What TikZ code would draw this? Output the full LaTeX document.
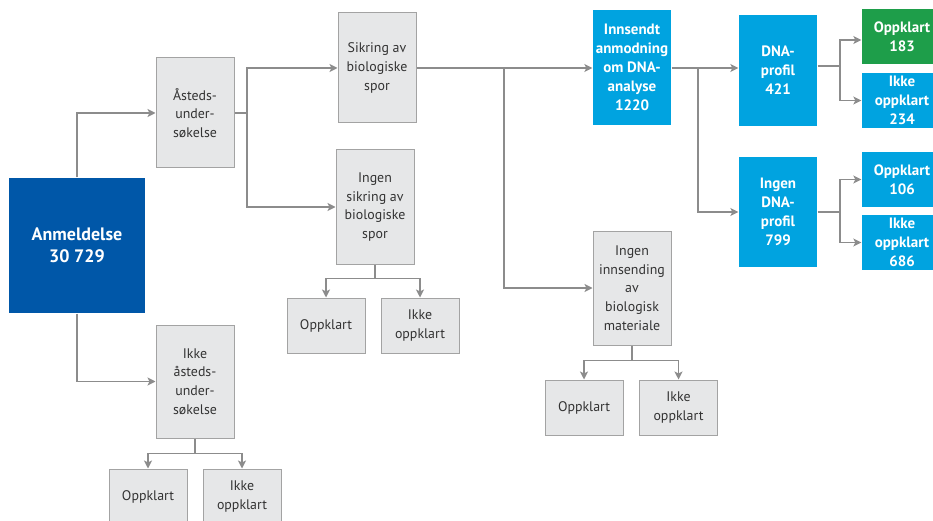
\documentclass[tikz,border=0pt]{standalone}
\usepackage{fontspec}
\setmainfont{PT Sans}
\usetikzlibrary{arrows.meta,positioning}
\definecolor{anmblue}{HTML}{0057A8}
\definecolor{dnablue}{HTML}{00A3E0}
\definecolor{oppgreen}{HTML}{1E9E4A}
\definecolor{boxgray}{HTML}{E6E7E8}
\definecolor{edgegray}{HTML}{A3A3A3}
\definecolor{linegray}{HTML}{8C8C8C}
\begin{document}
\begin{tikzpicture}[x=1pt, y=-1pt, line width=1.3pt,
    font=\fontsize{13.9}{18.7}\selectfont,
    arr/.style={draw=linegray, -{Stealth[length=8pt,width=8pt,inset=2pt]}},
    lin/.style={draw=linegray}]
   \useasboundingbox (0,0) rectangle (933,521);
   \begin{scope}[every node/.style={draw=edgegray, fill=boxgray, text=black!80, align=center,
       inner sep=0pt, line width=1pt, minimum width=78pt, minimum height=110pt}]
    \node (asted) at (195,113) {Åsteds-\\under-\\søkelse};
    \node (sikring) at (377,68) {Sikring av\\biologiske\\spor};
    \node (ingensikring) at (375,207) [minimum height=114pt] {Ingen\\sikring av\\biologiske\\spor};
    \node (ikkeasted) at (195,381.5) [minimum height=113pt] {Ikke\\åsteds-\\under-\\søkelse};
    \node (ingeninns) at (632,288) [minimum height=114pt] {Ingen\\innsending\\av\\biologisk\\materiale};
    \node (opp1) at (326,325.5) [minimum height=55pt] {Oppklart};
    \node (ikke1) at (420,325.5) [minimum height=55pt] {Ikke\\oppklart};
    \node (opp2) at (148,496.5) [minimum height=55pt] {Oppklart};
    \node (ikke2) at (242,496.5) [minimum height=55pt] {Ikke\\oppklart};
    \node (opp3) at (584,407.5) [minimum height=55pt] {Oppklart};
    \node (ikke3) at (678.5,407.5) [minimum height=55pt] {Ikke\\oppklart};
   \end{scope}
   \begin{scope}[every node/.style={fill=dnablue, text=white, align=center, inner sep=0pt,
       minimum width=78pt, minimum height=110pt, font=\fontsize{15}{19}\bfseries}]
    \node (anm) at (77,245.5) [fill=anmblue, minimum width=136pt, minimum height=135pt,
       font=\fontsize{18}{22}\bfseries] {Anmeldelse\\30 729};
    \node (innsendt) at (632,67.5) [minimum height=115pt] {Innsendt\\anmodning\\om DNA-\\analyse\\1220};
    \node (dna) at (778,70.5) [minimum height=111pt] {DNA-\\profil\\421};
    \node (ingendna) at (778,212) {Ingen\\DNA-\\profil\\799};
    \node (dnaopp) at (902,36.5) [fill=oppgreen, minimum width=80pt, minimum height=55pt] {Oppklart\\183};
    \node (dnaikke) at (902,100.5) [minimum width=80pt, minimum height=55pt] {Ikke\\oppklart\\234};
    \node (udnaopp) at (902,179.5) [minimum width=80pt, minimum height=55pt] {Oppklart\\106};
    \node (udnaikke) at (902,242.5) [minimum width=80pt, minimum height=55pt] {Ikke\\oppklart\\686};
   \end{scope}
   % branch points
   \coordinate (b1) at (247,113);
   \coordinate (b2) at (504,68);
   \coordinate (b3) at (698,68);
   \coordinate (b4) at (840,66);
   \coordinate (b5) at (840,212);
   \draw[arr] (anm.north) |- (asted);
   \draw[arr] (anm.south) |- (ikkeasted);
   \draw[lin] (asted.east) -- (b1);
   \draw[arr] (b1) |- (sikring);
   \draw[arr] (b1) |- (ingensikring);
   \draw[arr] (sikring.east) -- (innsendt.west |- b2);
   \draw[arr] (b2) |- (ingeninns);
   \draw[lin] (innsendt.east |- b3) -- (b3);
   \draw[arr] (b3) -- (dna.west |- b3);
   \draw[arr] (b3) |- (ingendna);
   \draw[lin] (dna.east |- b4) -- (b4);
   \draw[arr] (b4) |- (dnaopp.west |- 0,40);
   \draw[arr] (b4) |- (dnaikke);
   \draw[lin] (ingendna.east |- b5) -- (b5);
   \draw[arr] (b5) |- (udnaopp);
   \draw[arr] (b5) |- (udnaikke);
   \draw[arr] (ingensikring.south) -- ++(0,14) -| (opp1);
   \draw[arr] (ingensikring.south) ++(0,14) -| (ikke1);
   \draw[arr] (ikkeasted.south) -- ++(0,15) -| (opp2);
   \draw[arr] (ikkeasted.south) ++(0,15) -| (ikke2);
   \draw[arr] (ingeninns.south) -- ++(0,15) -| (opp3);
   \draw[arr] (ingeninns.south) ++(0,15) -| (ikke3);
\end{tikzpicture}
\end{document}
